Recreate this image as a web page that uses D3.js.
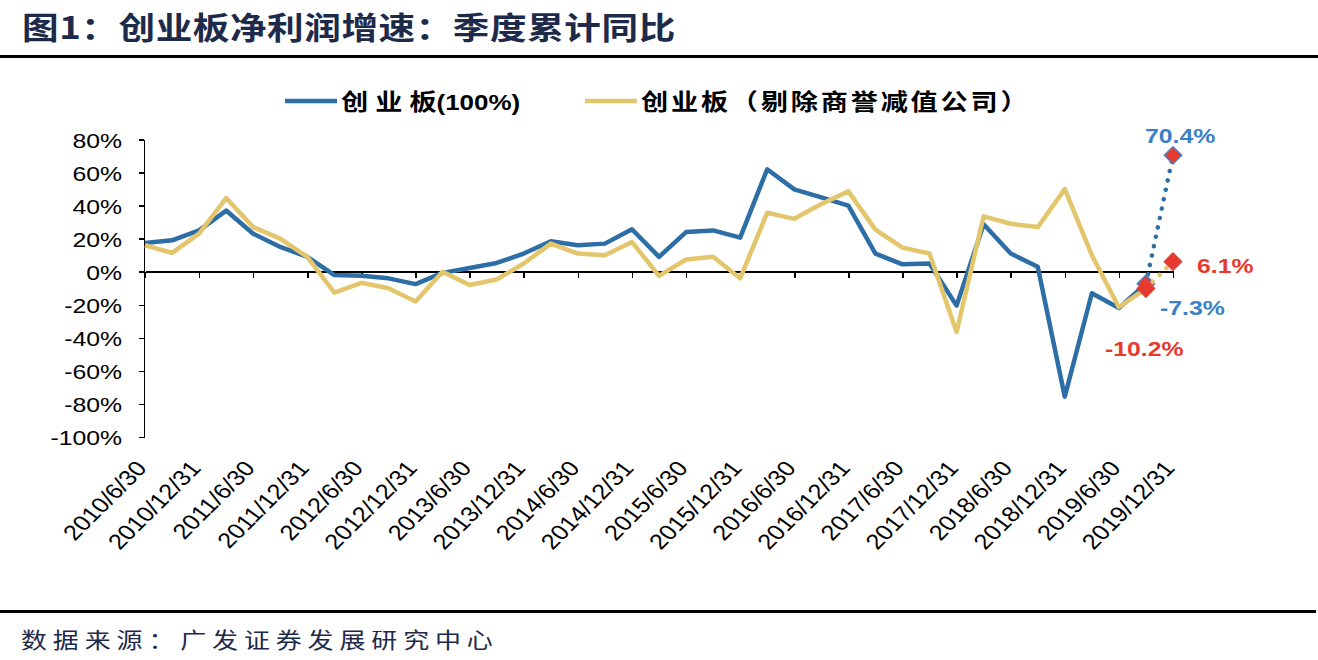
<!DOCTYPE html>
<html lang="zh">
<head>
    <meta charset="UTF-8">
    <title>创业板净利润增速：季度累计同比</title>
    <style>
        body { margin: 0; background: #fff; }
        svg { display: block; }
        .latin { font-family: "Liberation Sans", Arial, sans-serif; }
        .cjk { font-family: "Noto Sans CJK SC", "Liberation Sans", sans-serif; }
        .axis path, .axis line { fill: none; stroke: #000; stroke-width: 1.5px; shape-rendering: crispEdges; }
    </style>
</head>
<body>
<svg id="chart" width="1318" height="660"></svg>

<script src="https://d3js.org/d3.v7.min.js"></script>
<script>
    // Quarter-end dates (cumulative YoY growth, %)
    const dates = [
        "2010/6/30", "2010/9/30", "2010/12/31", "2011/3/31", "2011/6/30", "2011/9/30", "2011/12/31",
        "2012/3/31", "2012/6/30", "2012/9/30", "2012/12/31", "2013/3/31", "2013/6/30", "2013/9/30",
        "2013/12/31", "2014/3/31", "2014/6/30", "2014/9/30", "2014/12/31", "2015/3/31", "2015/6/30",
        "2015/9/30", "2015/12/31", "2016/3/31", "2016/6/30", "2016/9/30", "2016/12/31", "2017/3/31",
        "2017/6/30", "2017/9/30", "2017/12/31", "2018/3/31", "2018/6/30", "2018/9/30", "2018/12/31",
        "2019/3/31", "2019/6/30", "2019/9/30", "2019/12/31"
    ];

    // 创业板(100%) — actual values up to 2019/9/30
    const gemAll = [
        17.4, 19, 25, 37, 23, 15, 9, -2, -2.5, -4, -7.5, -0.7, 2.3, 5.3,
        11, 18.4, 16, 17, 25.7, 9, 24, 25, 20.6, 62, 49.8, 45, 40, 11,
        4.5, 5, -20.5, 28.7, 11, 3, -75.6, -13, -22, -7.3
    ];
    // 创业板（剔除商誉减值公司）
    const gemExGoodwill = [
        16, 11.4, 23, 44.6, 27, 20, 9, -12.6, -6.7, -10, -18, 0, -8, -4.7,
        5, 17, 11, 10, 18, -2.5, 7.4, 9, -4, 35.7, 32, 41, 48.6, 25.5,
        14.6, 11, -36.5, 33.5, 29, 27, 50, 10, -21.5, -10.2
    ];
    // 2019/12/31 projected points (dotted)
    const forecastAll = 70.4;
    const forecastEx = 6.1;

    const yTicks = [80, 60, 40, 20, 0, -20, -40, -60, -80, -100];
    const labelDates = dates.filter((d, i) => i % 2 === 0);

    const SX = 1.18; // the source picture is a bit wide
    const blue = "#2e6ea6", gold = "#e3c66c", red = "#e8392e", blueText = "#3b7fc4", navy = "#1e2a4a";

    const svg = d3.select("#chart");

    const x = d3.scalePoint().domain(dates).range([145, 1173]);
    const y = d3.scaleLinear().domain([-100, 80]).range([437, 139.5]);

    // Title and rules
    svg.append("text")
        .attr("class", "cjk")
        .attr("transform", `translate(22,39) scale(${SX},1)`)
        .attr("fill", navy)
        .style("font-size", "31px").style("font-weight", "bold").style("letter-spacing", "0.5px")
        .text("图1：创业板净利润增速：季度累计同比");

    svg.append("rect").attr("x", 0).attr("y", 55).attr("width", 1318).attr("height", 3).attr("fill", "#000");
    svg.append("rect").attr("x", 0).attr("y", 610).attr("width", 1316).attr("height", 3).attr("fill", "#000");

    svg.append("text")
        .attr("class", "cjk")
        .attr("transform", `translate(21,648) scale(${SX},1)`)
        .attr("fill", navy)
        .style("font-size", "22px").style("letter-spacing", "5px")
        .text("数据来源：广发证券发展研究中心");

    // Legend
    const legend = [
        { name: "创业板", tail: "(100%)", color: blue, x0: 285, spacing: 6 },
        { name: "创业板（剔除商誉减值公司）", tail: "", color: gold, x0: 585, spacing: 2.4 }
    ];
    legend.forEach(l => {
        svg.append("line")
            .attr("x1", l.x0).attr("x2", l.x0 + 52).attr("y1", 101).attr("y2", 101)
            .attr("stroke", l.color).attr("stroke-width", 4.5);
        const t = svg.append("text")
            .attr("transform", `translate(${l.x0 + 56},110) scale(${SX},1)`)
            .attr("fill", "#000").style("font-weight", "bold");
        if (l.tail) {
            t.append("tspan").attr("class", "cjk")
                .style("font-size", "23px").style("letter-spacing", l.spacing + "px")
                .text(l.name.slice(0, -1));
            t.append("tspan").attr("class", "cjk")
                .style("font-size", "23px")
                .text(l.name.slice(-1));
            t.append("tspan").attr("class", "latin")
                .style("font-size", "22px")
                .text(l.tail);
        } else {
            t.append("tspan").attr("class", "cjk")
                .style("font-size", "23px").style("letter-spacing", l.spacing + "px")
                .text(l.name);
        }
    });

    // Y axis
    const yAxis = svg.append("g")
        .attr("class", "axis")
        .attr("transform", "translate(144,0)")
        .call(d3.axisLeft(y).tickValues(yTicks).tickSize(5).tickSizeOuter(0).tickFormat(d => d + "%"));
    yAxis.selectAll("text")
        .attr("class", "latin")
        .attr("x", 0).attr("dy", null)
        .attr("transform", `translate(-22,7.5) scale(${SX},1)`)
        .attr("fill", "#000")
        .style("font-size", "21px");

    // X axis on the zero line
    svg.append("g")
        .attr("class", "axis")
        .attr("transform", `translate(0,${y(0)})`)
        .call(d3.axisBottom(x).tickValues(labelDates).tickSize(6).tickSizeOuter(0).tickFormat(""));

    svg.append("g")
        .selectAll("text")
        .data(labelDates)
        .join("text")
        .attr("class", "latin")
        .attr("text-anchor", "end")
        .attr("transform", d => `translate(${x(d) + 3},469) scale(${SX},1) rotate(-49.5)`)
        .attr("fill", "#000")
        .style("font-size", "21.5px")
        .text(d => d);

    // Series
    const line = d3.line().x(d => x(d[0])).y(d => y(d[1]));
    const last = dates.length - 1;

    function diamond(g, date, value, stroke) {
        g.append("path")
            .attr("d", d3.symbol().type(d3.symbolSquare).size(150)())
            .attr("transform", `translate(${x(date)},${y(value)}) rotate(45)`)
            .attr("fill", red)
            .attr("stroke", stroke)
            .attr("stroke-width", 1.5);
    }

    const series = [
        { values: gemAll, forecast: forecastAll, color: blue, markerStroke: "#4f7fbf" },
        { values: gemExGoodwill, forecast: forecastEx, color: gold, markerStroke: "#d9463a" }
    ];

    series.forEach(s => {
        const g = svg.append("g");
        g.append("path")
            .datum(s.values.map((v, i) => [dates[i], v]))
            .attr("d", line)
            .attr("fill", "none")
            .attr("stroke", s.color)
            .attr("stroke-width", 4.5)
            .attr("stroke-linejoin", "round");
        const lastActual = s.values.length - 1;
        g.append("path")
            .datum([[dates[lastActual], s.values[lastActual]], [dates[last], s.forecast]])
            .attr("d", line)
            .attr("fill", "none")
            .attr("stroke", s.color)
            .attr("stroke-width", 4.5)
            .attr("stroke-linecap", "round")
            .attr("stroke-dasharray", "0.1 9.5");
        diamond(g, dates[lastActual], s.values[lastActual], s.markerStroke);
        diamond(g, dates[last], s.forecast, s.markerStroke);
    });

    // Value labels
    const valueLabels = [
        { text: "70.4%", x: 1145, y: 143, color: blueText },
        { text: "6.1%", x: 1197, y: 273, color: red },
        { text: "-7.3%", x: 1160, y: 315, color: blueText },
        { text: "-10.2%", x: 1105, y: 356, color: red }
    ];
    svg.append("g")
        .selectAll("text")
        .data(valueLabels)
        .join("text")
        .attr("class", "latin")
        .attr("transform", d => `translate(${d.x},${d.y}) scale(${SX},1)`)
        .attr("fill", d => d.color)
        .style("font-size", "21px")
        .style("font-weight", "bold")
        .text(d => d.text);
</script>
</body>
</html>
